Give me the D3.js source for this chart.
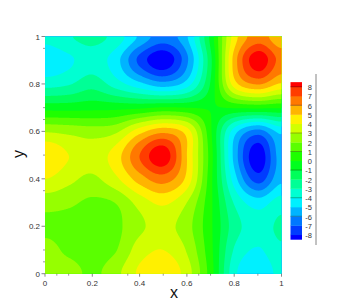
<!DOCTYPE html>
<html><head><meta charset="utf-8">
<style>html,body{margin:0;padding:0;background:#fff}svg{display:block}text{font-family:"Liberation Sans",Arial,sans-serif;fill:#333}</style>
<script src="https://cdn.jsdelivr.net/npm/d3@7"></script></head><body>
<svg id="c" width="346" height="308"></svg>
<script>
const gridX=[0,0.1,0.2,0.3,0.4,0.5,0.6,0.7,0.8,0.9,1];
const gridY=[1,0.9,0.8,0.7,0.6,0.5,0.4,0.3,0.2,0.1,0];
const rowY100=[-3.6,-3.0,-2.6,-3.3,-5.1,-6.4,-5,-0.6,4.6,6.6,5.4];
const rowY090=[-4.7,-4.1,-3.4,-4.5,-7.2,-8.7,-6.1,-1.2,5.5,8.8,6.8];
const rowY080=[-3.3,-3,-2.3,-3.4,-4.6,-5.5,-4.4,-0.8,4.6,6.2,5];
const rowY070=[-0.3,-0.3,-0.2,-0.2,-0.1,0.2,0.1,0,0.2,0.3,0.2];
const rowY060=[3,2.8,2.6,2.9,4.7,5.8,4.6,0.3,-4.4,-6.3,-4.6];
const rowY050=[5,4.1,3.6,4.6,7.1,8.8,5.1,0.6,-5.2,-8.6,-5.5];
const rowY040=[4.1,3.4,2.9,3.9,5.6,6.6,4.8,0.45,-4.4,-7.4,-5.2];
const rowY030=[2.5,2.3,1.9,2.15,3.5,4.3,3.1,0.35,-3,-4.4,-3.4];
const rowY020=[1.85,1.7,1.55,1.85,2.9,3.4,2.5,0.3,-2.4,-3.4,-2.7];
const rowY010=[2.5,1.85,1.6,2.05,3.6,4.1,3,0.4,-3,-4,-3.1];
const rowY000=[3,2.6,1.9,2.8,4.3,4.9,3.6,0.6,-3.6,-4.7,-3.6];
const rows=[rowY100,rowY090,rowY080,rowY070,rowY060,rowY050,rowY040,rowY030,rowY020,rowY010,rowY000];
const levels=[-7.9,-6.9,-5.9,-4.9,-3.9,-2.9,-1.9,-0.9,0.1,1.1,2.1,3.1,4.1,5.1,6.1,7.1,8.1];
const bandColors=["#0000ff","#003cff","#0078ff","#00b4ff","#00f0ff","#00ffd2","#00ff96","#00ff5a","#00ff1e","#1eff00","#5aff00","#96ff00","#d2ff00","#fff000","#ffb400","#ff7800","#ff3c00","#ff0000"];
const axisTicks=[0,0.2,0.4,0.6,0.8,1];
const xMinor=[0.05,0.1,0.35,0.5,0.65,0.7,0.9];
const yMinor=[0.05,0.1,0.35,0.5,0.65,0.7,0.95];
const legendTicks=[8,7,6,5,4,3,2,1,0,-1,-2,-3,-4,-5,-6,-7,-8];
const legendDark=[8.1,6.1,3.1,1.1,-0.9,-3.9,-5.9];

const svg=d3.select("#c");
const x=d3.scaleLinear().domain([0,1]).range([45,281.5]);
const y=d3.scaleLinear().domain([0,1]).range([273.7,36.5]);

// resample the read grid smoothly for contouring
const N=400;
function cr(p0,p1,p2,p3,t){return 0.5*(2*p1+(p2-p0)*t+(2*p0-5*p1+4*p2-p3)*t*t+(3*p1-p0-3*p2+p3)*t*t*t);}
const nr=rows.length,nc=gridX.length;
const at=(r,c)=>{const rr=r<0?-r:(r>=nr?2*(nr-1)-r:r),cc=c<0?-c:(c>=nc?2*(nc-1)-c:c);return rows[rr][cc];};
const vals=new Float64Array(N*N);
for(let j=0;j<N;j++){const fy=j/(N-1)*(nr-1),r=Math.min(nr-2,Math.floor(fy)),ty=fy-r;
  for(let i=0;i<N;i++){const fx=i/(N-1)*(nc-1),c=Math.min(nc-2,Math.floor(fx)),tx=fx-c;
    const col=[-1,0,1,2].map(k=>cr(at(r-1,c+k),at(r,c+k),at(r+1,c+k),at(r+2,c+k),ty));
    vals[j*N+i]=cr(col[0],col[1],col[2],col[3],tx);}}
const contours=d3.contours().size([N,N]).thresholds(levels)(vals);
const cx=d3.scaleLinear().domain([0.5,N-0.5]).range(x.range());
const cy=d3.scaleLinear().domain([0.5,N-0.5]).range(y.range().slice().reverse());
const proj=d3.geoTransform({point(a,b){this.stream.point(cx(a),cy(b));}});
const path=d3.geoPath(proj);
svg.append("clipPath").attr("id","pc").append("rect").attr("x",x(0)).attr("y",y(1)).attr("width",x(1)-x(0)).attr("height",y(0)-y(1));
const g=svg.append("g").attr("clip-path","url(#pc)");
g.append("rect").attr("x",x(0)).attr("y",y(1)).attr("width",x(1)-x(0)).attr("height",y(0)-y(1)).attr("fill",bandColors[0]);
g.selectAll("path").data(contours).join("path").attr("d",path).attr("fill",(d,i)=>bandColors[i+1]);

// axes
const tk="#555";
svg.selectAll(".xt").data(axisTicks).join("line").attr("x1",d=>x(d)).attr("x2",d=>x(d)).attr("y1",y(0)).attr("y2",y(0)+3).attr("stroke",tk).attr("stroke-width",0.7);
svg.selectAll(".xm").data(xMinor).join("line").attr("x1",d=>x(d)).attr("x2",d=>x(d)).attr("y1",y(0)).attr("y2",y(0)+2).attr("stroke",tk).attr("stroke-width",0.6);
svg.selectAll(".yt").data(axisTicks).join("line").attr("y1",d=>y(d)).attr("y2",d=>y(d)).attr("x1",x(0)-3.5).attr("x2",x(0)).attr("stroke",tk).attr("stroke-width",0.7);
svg.selectAll(".ym").data(yMinor).join("line").attr("y1",d=>y(d)).attr("y2",d=>y(d)).attr("x1",x(0)-2).attr("x2",x(0)).attr("stroke",tk).attr("stroke-width",0.6);
svg.selectAll(".xl").data(axisTicks).join("text").attr("x",d=>x(d)).attr("y",y(0)+12.5).attr("text-anchor","middle").attr("font-size",8).text(d=>d3.format("~g")(d));
svg.selectAll(".yl").data(axisTicks).join("text").attr("x",x(0)-5).attr("y",d=>y(d)+3).attr("text-anchor","end").attr("font-size",8).text(d=>d3.format("~g")(d));
svg.append("text").attr("x",174).attr("y",298).attr("text-anchor","middle").attr("font-size",16).style("fill","#111").text("x");
svg.append("text").attr("transform","translate(23.5,154) rotate(-90)").attr("text-anchor","middle").attr("font-size",16).style("fill","#111").text("y");

// colour legend
const ly=d3.scaleLinear().domain([8,-8]).range([87.7,235.7]);
const edges=[-8.4,...levels,8.6];
svg.selectAll(".b").data(bandColors).join("rect").attr("x",290.5).attr("width",11.5)
  .attr("y",(d,i)=>ly(edges[i+1])).attr("height",(d,i)=>ly(edges[i])-ly(edges[i+1])+0.3).attr("fill",d=>d);
svg.selectAll(".dk").data(legendDark).join("line").attr("x1",290.5).attr("x2",302).attr("y1",d=>ly(d)).attr("y2",d=>ly(d)).attr("stroke","#000").attr("stroke-opacity",0.45).attr("stroke-width",0.7);
svg.selectAll(".lt").data(legendTicks).join("text").attr("x",312).attr("y",d=>ly(d)+2.5).attr("text-anchor","end").attr("font-size",7.5).text(d=>d);
svg.append("line").attr("x1",316).attr("x2",316).attr("y1",74).attr("y2",245).attr("stroke","#666").attr("stroke-width",0.8);
</script></body></html>
